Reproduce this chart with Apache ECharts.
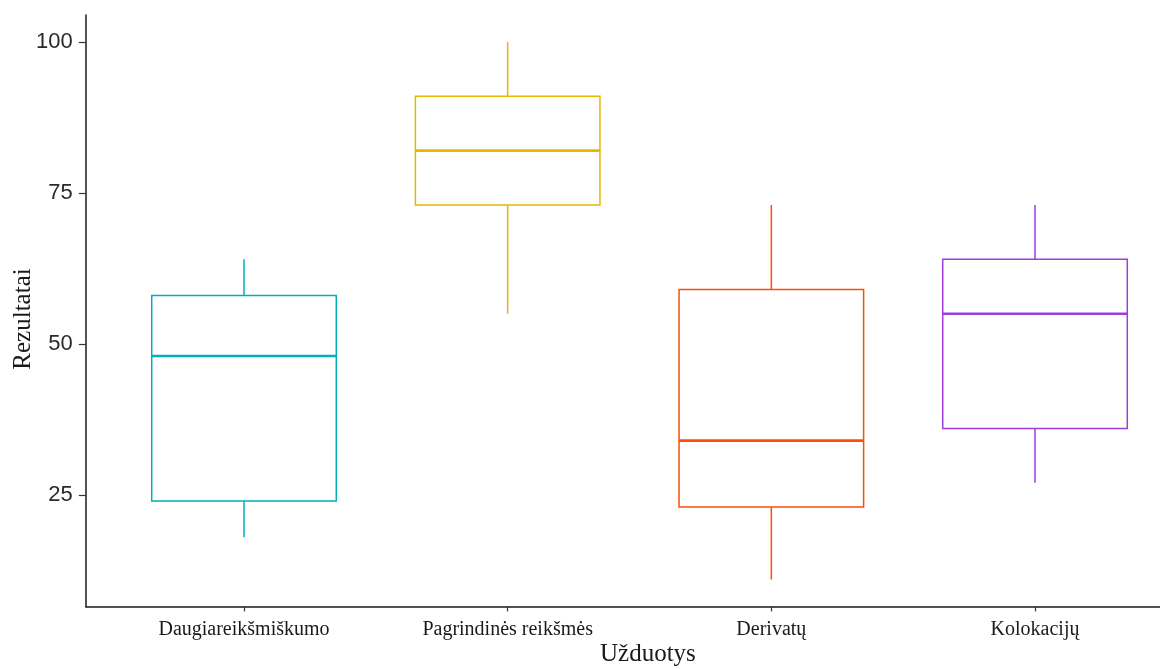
<!DOCTYPE html>
<html>
<head>
<meta charset="utf-8">
<script src="https://cdn.jsdelivr.net/npm/echarts@6/dist/echarts.min.js"></script>
<style>
  html, body { margin: 0; padding: 0; background: #ffffff; }
  #chart { width: 1160px; height: 669px; }
</style>
</head>
<body>
<div id="chart"></div>
<script>
// Task groups and five-number summaries of the results
const categories = ['Daugiareikšmiškumo', 'Pagrindinės reikšmės', 'Derivatų', 'Kolokacijų'];
const whiskerLow = [18, 55, 11, 27];
const quartile1 = [24, 73, 23, 36];
const medians = [48, 82, 34, 55];
const quartile3 = [58, 91, 59, 64];
const whiskerHigh = [64, 100, 73, 73];
const yTicks = [25, 50, 75, 100];
const boxColors = ['#00AFBB', '#E7B800', '#FC4E07', '#A03CDA'];

const boxData = categories.map((c, i) => [i + 1, whiskerLow[i], quartile1[i], medians[i], quartile3[i], whiskerHigh[i]]);

const chart = echarts.init(document.getElementById('chart'), null, { renderer: 'canvas' });

// Box with whiskers (no end caps) and a heavier median line
function renderBox(params, api) {
  const x = api.value(0);
  const color = boxColors[params.dataIndex];
  const half = api.size([0.7, 0])[0] / 2;
  const pLow = api.coord([x, api.value(1)]);
  const pQ1 = api.coord([x, api.value(2)]);
  const pMed = api.coord([x, api.value(3)]);
  const pQ3 = api.coord([x, api.value(4)]);
  const pHigh = api.coord([x, api.value(5)]);
  const thin = { stroke: color, lineWidth: 1.5, fill: null };
  return {
    type: 'group',
    children: [
      { type: 'line', shape: { x1: pHigh[0], y1: pHigh[1], x2: pQ3[0], y2: pQ3[1] }, style: thin },
      { type: 'line', shape: { x1: pQ1[0], y1: pQ1[1], x2: pLow[0], y2: pLow[1] }, style: thin },
      { type: 'rect', shape: { x: pQ3[0] - half, y: pQ3[1], width: half * 2, height: pQ1[1] - pQ3[1] },
        style: { stroke: color, lineWidth: 1.5, fill: '#ffffff' } },
      { type: 'line', shape: { x1: pMed[0] - half, y1: pMed[1], x2: pMed[0] + half, y2: pMed[1] },
        style: { stroke: color, lineWidth: 2.6 } }
    ]
  };
}

const option = {
  backgroundColor: '#ffffff',
  animation: false,
  grid: {
    left: 85.8, top: 15, width: 1107.4, height: 591.4,
    containLabel: false, outerBoundsMode: 'none'
  },
  xAxis: {
    type: 'value',
    min: 0.4,
    max: 4.6,
    splitLine: { show: false },
    axisLine: { show: true, onZero: false, lineStyle: { color: '#1a1a1a', width: 1.5 } },
    axisTick: { show: true, customValues: [1, 2, 3, 4], length: 5, lineStyle: { color: '#333333', width: 1.2 } },
    axisLabel: {
      customValues: [1, 2, 3, 4],
      formatter: v => categories[Math.round(v) - 1],
      fontFamily: 'Liberation Serif',
      fontSize: 20,
      color: '#1a1a1a',
      margin: 13
    }
  },
  yAxis: {
    type: 'value',
    min: 6.55,
    max: 104.45,
    splitLine: { show: false },
    axisLine: { show: true, onZero: false, lineStyle: { color: '#1a1a1a', width: 1.5 } },
    axisTick: { show: true, customValues: yTicks, length: 7, lineStyle: { color: '#333333', width: 1.2 } },
    axisLabel: {
      customValues: yTicks,
      fontFamily: 'Liberation Sans',
      fontSize: 22,
      color: '#2a2a2a',
      margin: 13
    }
  },
  graphic: [
    {
      type: 'text', left: 600, top: 642,
      style: { text: 'Užduotys', font: '25px "Liberation Serif"', fill: '#1a1a1a' }
    },
    {
      type: 'text', x: 11, y: 319, rotation: Math.PI / 2,
      style: { text: 'Rezultatai', font: '25px "Liberation Serif"', fill: '#1a1a1a', align: 'center', verticalAlign: 'top' }
    }
  ],
  series: [
    {
      type: 'custom',
      renderItem: renderBox,
      encode: { x: 0, y: [1, 2, 3, 4, 5] },
      data: boxData,
      clip: false
    }
  ]
};

chart.setOption(option);
</script>
</body>
</html>
